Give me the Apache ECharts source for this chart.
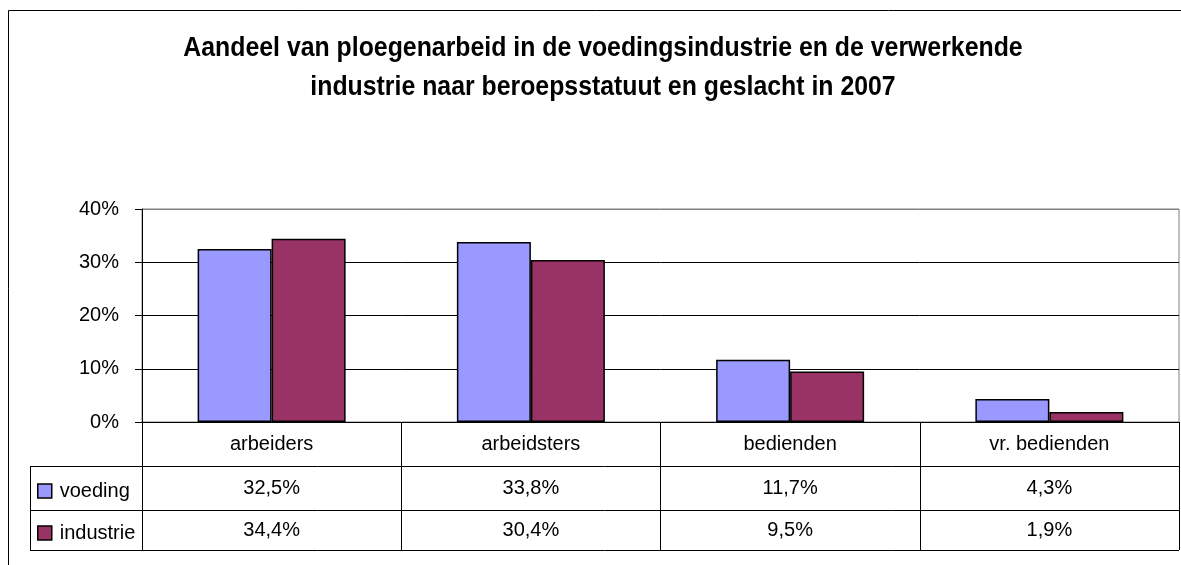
<!DOCTYPE html>
<html>
<head>
<meta charset="utf-8">
<script src="https://cdn.jsdelivr.net/npm/echarts@6/dist/echarts.min.js"></script>
<style>
  html, body { margin: 0; padding: 0; background: #fff; }
  #chart { width: 1181px; height: 565px; }
</style>
</head>
<body>
<div id="chart"></div>
<script>
let categories = ["arbeiders", "arbeidsters", "bedienden", "vr. bedienden"];
let voeding = [0.325, 0.338, 0.117, 0.043];
let industrie = [0.344, 0.304, 0.095, 0.019];
let seriesNames = ["voeding", "industrie"];
let yTicks = [0, 0.1, 0.2, 0.3, 0.4];
let titleText = "Aandeel van ploegenarbeid in de voedingsindustrie en de verwerkende\nindustrie naar beroepsstatuut en geslacht in 2007";

let font = "'Liberation Sans', Arial, sans-serif";

// 0.325 -> "32,5%"
function fmt(v) {
  return (v * 100).toFixed(1).replace(".", ",") + "%";
}

// hidden x axes that only carry the data table rows
function tableRow(values, margin) {
  return {
    type: "category",
    data: categories,
    position: "bottom",
    axisLine: { show: false },
    axisTick: { show: false },
    splitLine: { show: false },
    axisLabel: {
      margin: margin,
      fontSize: 20,
      fontFamily: font,
      color: "#000",
      formatter: function(v, i) {
        return fmt(values[i]);
      }
    }
  };
}

var myChart = echarts.init(document.getElementById("chart"));
myChart.setOption({
  animation: false,
  legend: {
    data: seriesNames,
    orient: "vertical",
    left: 37,
    top: 481,
    padding: 0,
    itemWidth: 14,
    itemHeight: 14,
    itemGap: 22,
    icon: "rect",
    itemStyle: { borderColor: "#000", borderWidth: 1.5 },
    textStyle: {
      fontSize: 20,
      lineHeight: 20,
      fontFamily: font,
      color: "#000",
      padding: [0, 0, 0, 3]
    }
  },
  grid: {
    left: 142,
    top: 209,
    width: 1037,
    height: 213,
    show: true,
    borderColor: "#808080",
    borderWidth: 1,
    containLabel: false
  },
  xAxis: [
    {
      type: "category",
      data: categories,
      position: "bottom",
      axisLine: { lineStyle: { color: "#000", width: 1 } },
      axisTick: { show: true, length: 128, lineStyle: { color: "#000" } },
      axisLabel: { margin: 12, fontSize: 20, fontFamily: font, color: "#000" }
    },
    tableRow(voeding, 56),
    tableRow(industrie, 98)
  ],
  yAxis: {
    type: "value",
    min: yTicks[0],
    max: yTicks[yTicks.length - 1],
    interval: 0.1,
    axisLine: { show: true, lineStyle: { color: "#000" } },
    axisTick: { show: true, length: 7, lineStyle: { color: "#000" } },
    axisLabel: {
      margin: 23,
      fontSize: 20,
      fontFamily: font,
      color: "#000",
      formatter: function(v) {
        return Math.round(v * 100) + "%";
      }
    },
    splitLine: {
      lineStyle: { color: ["#000", "#000", "#000", "#000", "#808080"], width: 1 }
    }
  },
  series: [
    {
      name: seriesNames[0],
      type: "bar",
      data: voeding,
      barWidth: 74,
      barGap: "0%",
      itemStyle: { color: "#9999FF", borderColor: "#000", borderWidth: 1.5 }
    },
    {
      name: seriesNames[1],
      type: "bar",
      data: industrie,
      barWidth: 74,
      barGap: "0%",
      itemStyle: { color: "#993366", borderColor: "#000", borderWidth: 1.5 }
    }
  ],
  graphic: [
    // title, squeezed sideways since no narrow font is installed
    {
      type: "text",
      x: 603,
      y: 29,
      scaleX: 0.92,
      style: {
        text: titleText,
        font: "bold 27px 'Liberation Sans', Arial, sans-serif",
        lineHeight: 39,
        fill: "#000",
        align: "center",
        verticalAlign: "top"
      }
    },
    // outer chart border, cut off right and bottom like the picture
    { type: "rect", shape: { x: 8.5, y: 10.5, width: 1300, height: 700 }, style: { fill: null, stroke: "#000", lineWidth: 1 }, silent: true, z: -1 },
    // data table lines
    { type: "line", shape: { x1: 30, y1: 466.5, x2: 1179, y2: 466.5 }, style: { stroke: "#000", lineWidth: 1 } },
    { type: "line", shape: { x1: 30, y1: 510.5, x2: 1179, y2: 510.5 }, style: { stroke: "#000", lineWidth: 1 } },
    { type: "line", shape: { x1: 30, y1: 550.5, x2: 1179, y2: 550.5 }, style: { stroke: "#000", lineWidth: 1 } },
    { type: "line", shape: { x1: 30.5, y1: 466, x2: 30.5, y2: 551 }, style: { stroke: "#000", lineWidth: 1 } }
  ]
});
</script>
</body>
</html>
